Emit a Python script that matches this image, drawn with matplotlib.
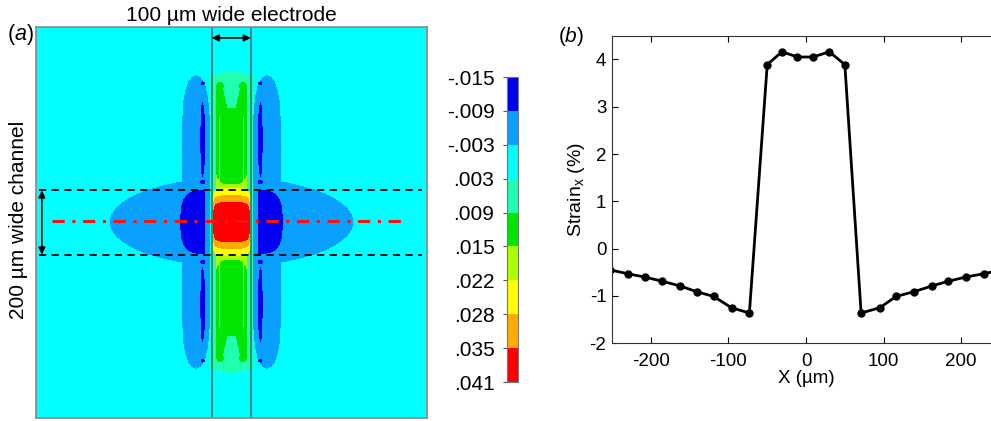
import numpy as np
import matplotlib.pyplot as plt
from matplotlib.colors import ListedColormap, BoundaryNorm

plt.rcParams['font.family'] = ['Liberation Sans', 'DejaVu Sans']
plt.rcParams['mathtext.fontset'] = 'custom'
plt.rcParams['mathtext.rm'] = 'Liberation Sans'
plt.rcParams['mathtext.it'] = 'Liberation Sans:italic'
plt.rcParams['axes.unicode_minus'] = False

# colour scale of panel (a)
levels = [-0.015, -0.009, -0.003, 0.003, 0.009, 0.015, 0.022, 0.028, 0.035, 0.041]
level_labels = ['-.015', '-.009', '-.003', '.003', '.009', '.015', '.022', '.028', '.035', '.041']
band_colors = ['#0000f0', '#0aa0ff', '#00ffff', '#20ffb0', '#00e600',
               '#aaff00', '#ffff00', '#ffaa00', '#ff0000']

# strain given to each region of the simulated map (panel a)
strain_background = 0.0
strain_side = -0.006
strain_compressed = -0.012
strain_electrode_edge = 0.006
strain_electrode = 0.012
strain_rim = 0.018
strain_channel = 0.025
strain_core_outer = 0.031
strain_core = 0.038

# panel (b): strain along the red dash-dot line
x_um = [-252, -230, -208, -185, -162, -141, -119, -96, -73,
        -50, -31, -11, 9, 30, 50,
        71, 95, 116, 139, 162, 183, 206, 229, 252]
strain_pct = [-0.45, -0.53, -0.60, -0.69, -0.79, -0.91, -1.01, -1.25, -1.36,
              3.89, 4.16, 4.05, 4.05, 4.16, 3.89,
              -1.36, -1.25, -1.01, -0.91, -0.79, -0.69, -0.60, -0.53, -0.45]

# ---- build the region map (um, centred on electrode / channel crossing)
g = np.linspace(-500, 500, 1000)
X, Y = np.meshgrid(g, g)
AX, AY = np.abs(X), np.abs(Y)
field = np.full(X.shape, strain_background)

blob = (X / 312) ** 2 + (Y / 113) ** 2 <= 1
band = ((AX - 91) / 36) ** 2 + (AY / 374) ** 8 <= 1
field[blob | band] = strain_side

lobe = (AX >= 68) & ((np.abs(AX - 68) / 63) ** 3 + (AY / 82) ** 3 <= 1)
stripe = ((AX - 74) / 6) ** 2 + ((AY - 211) / 97) ** 2 <= 1
dots = (((AX - 74) ** 2 + (AY - 354) ** 2) <= 25) | (((AX - 74) ** 2 + (AY - 102) ** 2) <= 36)
field[lobe | stripe | dots] = strain_compressed

cap = (AX <= 55) & (AY <= 385 - 13 * (AX / 55) ** 2)
field[cap] = strain_electrode_edge

notch = (AY > 290) & (AX < 10 + (AY - 290) * 0.233)
green = ((AX <= 39) & (AY <= 347) & ~notch) | ((AX - 29) ** 2 + (AY - 347) ** 2 <= 100)
field[green] = strain_electrode

rim = ((np.abs(AX - 31) <= 2) & (AY <= 267)) | ((AX <= 39) & (AY <= 96 + 25 * (AX / 39) ** 4))
field[rim] = strain_rim
field[(AX / 51) ** 6 + (AY / 86) ** 6 <= 1] = strain_channel
field[(AX / 49) ** 6 + (AY / 68) ** 6 <= 1] = strain_core_outer
field[(AX / 47) ** 6 + (AY / 50) ** 6 <= 1] = strain_core

cmap = ListedColormap(band_colors)
norm = BoundaryNorm(levels, cmap.N)

fig = plt.figure(figsize=(9.91, 4.21), dpi=100)

# ---- panel (a)
ax1 = fig.add_axes([0.0363, 0.0071, 0.3943, 0.9288])
im = ax1.imshow(field, cmap=cmap, norm=norm, origin='lower',
                extent=[-500, 500, -500, 500], aspect='auto', interpolation='nearest')
ax1.set_xlim(-500, 500)
ax1.set_ylim(-500, 500)
ax1.set_xticks([])
ax1.set_yticks([])
for s in ax1.spines.values():
    s.set_color('#7f8c8c')
    s.set_linewidth(1.2)

for xe in (-50, 50):
    ax1.axvline(xe, color='#3a7f7f', lw=1.3)
for yc in (-82, 82):
    ax1.plot([-491, 487], [yc, yc], color='k', lw=1.3, dashes=(4, 3))
ax1.plot([-458, 453], [5, 5], color='#ff1010', lw=2.2, dashes=(4, 2.5, 1, 2.5))
ax1.annotate('', xy=(-50, 472), xytext=(50, 472),
             arrowprops=dict(arrowstyle='<|-|>', color='k', lw=1.2,
                             mutation_scale=10, shrinkA=0, shrinkB=0))
ax1.annotate('', xy=(-485, 82), xytext=(-485, -82),
             arrowprops=dict(arrowstyle='<|-|>', color='k', lw=1.2,
                             mutation_scale=10, shrinkA=0, shrinkB=0))

fig.text(0.2331, 0.962, '100 \u00b5m wide electrode', ha='center', va='center', fontsize=15)
fig.text(0.0187, 0.477, '200 \u00b5m wide channel', ha='center', va='center',
         rotation=90, fontsize=15)
fig.text(0.0202, 0.917, r'($\it{a}$)', ha='center', va='center', fontsize=15.5)

# colour bar
cax = fig.add_axes([0.5116, 0.0926, 0.0111, 0.7245])
cb = fig.colorbar(im, cax=cax, ticks=levels)
cax.invert_yaxis()
cax.yaxis.set_ticks_position('left')
cax.yaxis.set_label_position('left')
cax.set_yticklabels(level_labels)
cax.tick_params(labelsize=15, length=3, width=0.8, color='#555555', pad=6)
cb.outline.set_edgecolor('#777777')

# ---- panel (b)
ax2 = fig.add_axes([0.6176, 0.1846, 0.3915, 0.7306])
ax2.plot(x_um, strain_pct, 'k-o', lw=2, ms=5)
ax2.set_xlim(-250, 250)
ax2.set_ylim(-2, 4.5)
ax2.set_xticks([-200, -100, 0, 100, 200])
ax2.set_yticks([-2, -1, 0, 1, 2, 3, 4])
ax2.tick_params(direction='in', top=True, right=True, length=4, labelsize=13.5)
ax2.tick_params(axis='x', pad=7)
ax2.tick_params(axis='y', pad=4)
for s in ax2.spines.values():
    s.set_color('#333333')
ax2.set_xlabel('X (\u00b5m)', fontsize=13.5, labelpad=0)
ax2.set_ylabel(r'Strain$_{\mathrm{x}}$ (%)', fontsize=14, labelpad=2)
fig.text(0.576, 0.913, r'($\it{b}$)', ha='center', va='center', fontsize=15)

fig.savefig('out.png', dpi=100)
